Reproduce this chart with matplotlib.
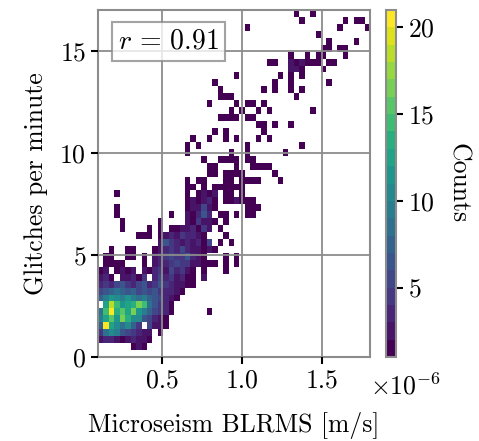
import numpy as np
import matplotlib
matplotlib.use('Agg')
import matplotlib.pyplot as plt

plt.rcParams['font.family'] = 'serif'
plt.rcParams['font.serif'] = ['cmr10']
plt.rcParams['mathtext.fontset'] = 'cm'
plt.rcParams['axes.formatter.use_mathtext'] = True

# 2d histogram of counts, 50x50 bins, rows listed from top (high glitch rate) to bottom
# '.' = empty, digits 1-9, then a=10, b=11, ... l=21
x_range = (0.1e-6, 1.8e-6)
y_range = (0.0, 17.0)
n_bins = 50
count_rows = [
    '..............................' + '......1..1' + '..........',
    '..............................' + '.......1..' + '.....1.11.',
    '....................' + '.......1..' + '..........' + '....1....1',
    '..............................' + '..........' + '1.........',
    '..............................' + '..........' + '..1....1..',
    '..............................' + '..........' + '.11.11....',
    '..............................' + '.....1..1.' + '11...1....',
    '..............................' + '.11..21211' + '1.11......',
    '..............................' + '.....221..' + '.1........',
    '....................' + '.....1....' + '...1.1.1..' + '..........',
    '....................' + '.1........' + '..1..1....' + '..1.......',
    '....................' + '..1.......' + '1.1..1.1..' + '..........',
    '....................' + '..111.....' + '......1...' + '..........',
    '....................' + '1....1.11.' + '1.........' + '..........',
    '....................' + '....1.1..1' + '.1.......1' + '..........',
    '....................' + '..1111.11.' + '..........' + '..........',
    '....................' + '.........1' + '1.1..1....' + '..........',
    '....................' + '.1.1......' + '1.........' + '..........',
    '..........' + '.......1..' + '1..1.1...1' + '.1........' + '..........',
    '..........' + '......1.1.' + '.......1..' + '.......1..' + '..........',
    '..........' + '......1...' + '....1..1..' + '....1.....' + '..........',
    '..........' + '.........1' + '..1111.11.' + '..........' + '..........',
    '..........' + '..........' + '11...1..11' + '11........' + '..........',
    '..........' + '..........' + '11.1111...' + '..1.......' + '..........',
    '..........' + '......1.11' + '...11.1111' + '...1......' + '..........',
    '..........' + '......11.1' + '.111111...' + '..........' + '..........',
    '...1......' + '......1.12' + '12.11.1...' + '..........' + '..........',
    '..........' + '......1212' + '31.112111.' + '..........' + '..........',
    '...1......' + '......1225' + '21.....111' + '..........' + '..........',
    '...1......' + '...1..2136' + '3.11.1.11.' + '..........' + '..........',
    '....1.....' + '.1....2142' + '21.1......' + '..........' + '..........',
    '....1....1' + '.1.1122314' + '2.1.......' + '..........' + '..........',
    '.......111' + '.123243321' + '...1......' + '..........' + '..........',
    '..........' + '.264323231' + '5.1.1.....' + '..........' + '..........',
    '..1..11...' + '1234353221' + '21........' + '..........' + '..........',
    '.11..11.1.' + '2345446321' + '...1.1....' + '..........' + '..........',
    '.1111...1.' + '2334544221' + '11.1.1....' + '..........' + '..........',
    '12.1212.21' + '34253421.1' + '...1......' + '..........' + '..........',
    '231.22314.' + '35342311.2' + '..........' + '..........' + '..........',
    '3435643563' + '46432211..' + '..........' + '..........' + '..........',
    '5678767565' + '643321....' + '..........' + '..........' + '..........',
    '79ba9b9897' + '65321.....' + '..........' + '..........' + '..........',
    '.ciebcdge8' + '6431......' + '..........' + '..........' + '..........',
    '8eldfcgb97' + '5431......' + '1.........' + '..........' + '..........',
    '9cfbgdaa65' + '321.......' + '..........' + '..........' + '..........',
    '7kca8a74.5' + '221.......' + '..........' + '..........' + '..........',
    '48a9654322' + '.1........' + '..........' + '..........' + '..........',
    '2332123221' + '..........' + '..........' + '..........' + '..........',
    '......121.' + '..........' + '..........' + '..........' + '..........',
    '..........' + '..........' + '..........' + '..........' + '..........',
]
r_value = 0.91
cbar_ticks = [5, 10, 15, 20]
x_ticks = [0.5e-6, 1.0e-6, 1.5e-6]
x_ticklabels = ['0.5', '1.0', '1.5']
y_ticks = [0, 5, 10, 15]

code = '.123456789abcdefghijkl'
counts = np.array([[code.index(ch) for ch in row.ljust(n_bins, '.')[:n_bins]]
                   for row in count_rows[::-1]], dtype=float)
counts = np.ma.masked_equal(counts, 0)

x_edges = np.linspace(x_range[0], x_range[1], n_bins + 1)
y_edges = np.linspace(y_range[0], y_range[1], n_bins + 1)

fs = 18.5
fig = plt.figure(figsize=(4.79, 4.41), dpi=100)
ax = fig.add_axes([0.2046, 0.1905, 0.5678, 0.7868])
cmap = plt.get_cmap('viridis', 20)
mesh = ax.pcolormesh(x_edges, y_edges, counts, cmap=cmap, vmin=1, vmax=21)

ax.set_xlim(x_range)
ax.set_ylim(y_range)
ax.set_xticks(x_ticks)
ax.set_xticklabels(x_ticklabels)
ax.set_yticks(y_ticks)
ax.grid(True, color='#8c8c8c', linewidth=1.3)
ax.set_axisbelow(False)
for s in ax.spines.values():
    s.set_color('#8c8c8c')
    s.set_linewidth(1.5)
ax.tick_params(direction='out', length=5, width=1.5, labelsize=fs, color='black')
ax.text(1.0, -0.045, r'$\times10^{-6}$', transform=ax.transAxes, fontsize=fs,
        ha='left', va='top')
ax.set_xlabel('Microseism BLRMS [m/s]', fontsize=fs, labelpad=14)
ax.set_ylabel('Glitches per minute', fontsize=fs, labelpad=8)

ax.text(0.26, 0.91, r'$r\,=\,%.2f$' % r_value, transform=ax.transAxes, fontsize=20,
        ha='center', va='center',
        bbox=dict(boxstyle='square,pad=0.22', fc='white', ec='#8c8c8c', lw=1.5, alpha=0.8))

cax = fig.add_axes([0.806, 0.1905, 0.0209, 0.7868])
cb = fig.colorbar(mesh, cax=cax, ticks=cbar_ticks)
cb.outline.set_edgecolor('#8c8c8c')
cb.outline.set_linewidth(1.5)
cb.ax.tick_params(direction='out', length=5, width=1.5, labelsize=fs, color='black')
cb.set_label('Counts', rotation=270, fontsize=fs, labelpad=25)

fig.savefig('out.png', dpi=100)
